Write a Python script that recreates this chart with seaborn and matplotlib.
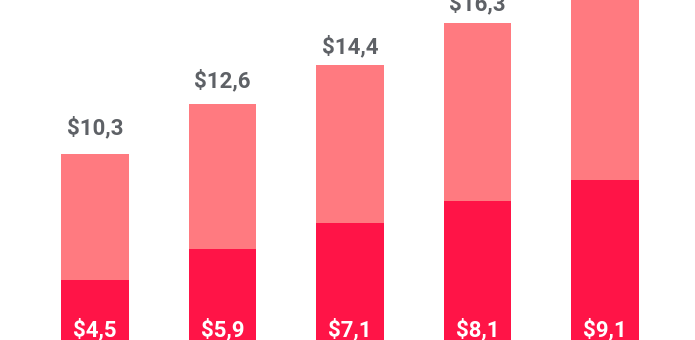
import matplotlib
matplotlib.use("Agg")
import matplotlib.pyplot as plt
import matplotlib.transforms as mtransforms
import seaborn as sns
import pandas as pd

categories = ["A", "B", "C", "D", "E"]
bottom_values = [4.5, 5.9, 7.1, 8.1, 9.1]
total_values = [10.3, 12.6, 14.4, 16.3, 18.2]
bottom_labels = ["$4,5", "$5,9", "$7,1", "$8,1", "$9,1"]
total_labels = ["$10,3", "$12,6", "$14,4", "$16,3", "$18,2"]

# label offsets above bar tops (points) - styling only
label_offsets = [10, 8, 4.5, 5.5, 5]

df = pd.DataFrame({"cat": categories, "bottom": bottom_values, "total": total_values})

sns.set_theme(style="white")
plt.rcParams["font.family"] = ["Roboto", "DejaVu Sans"]

fig = plt.figure(figsize=(6.95, 3.40), dpi=100)
ax = fig.add_axes([0, 0, 1, 1])

bw = 0.533
sns.barplot(data=df, x="cat", y="total", color="#FF7A80", width=bw,
            saturation=1, ax=ax, edgecolor="none", linewidth=0)
sns.barplot(data=df, x="cat", y="bottom", color="#FF1447", width=bw,
            saturation=1, ax=ax, edgecolor="none", linewidth=0)

ax.set_xlim(-0.745, 4.706)
ax.set_ylim(1.72, 17.38)
ax.axis("off")

for i, (t, lab) in enumerate(zip(total_values, total_labels)):
    ax.annotate(lab, xy=(i, t), xytext=(0, label_offsets[i]), textcoords="offset points",
                ha="center", va="bottom", fontsize=16, fontweight="bold",
                color="#5E6166", annotation_clip=False)

trans = mtransforms.blended_transform_factory(ax.transData, ax.transAxes)
for i, lab in enumerate(bottom_labels):
    ax.text(i, 0.01, lab, transform=trans, ha="center", va="baseline",
            fontsize=16, fontweight="bold", color="white")

fig.savefig("out.png", dpi=100)
